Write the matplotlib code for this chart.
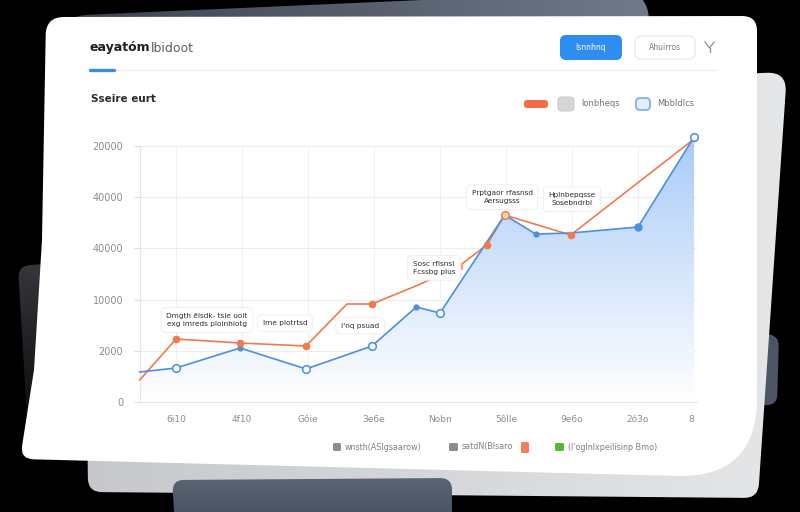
import numpy as np
import matplotlib
matplotlib.use("Agg")
import matplotlib.pyplot as plt
from matplotlib.path import Path
from matplotlib.patches import PathPatch, FancyBboxPatch
from matplotlib.colors import to_rgb

# ---------------- data / text ----------------
title_bold = "eayatóm"
title_light = "lbidoot"
subtitle = "Sseire eurt"
btn_primary = "lsnnhnq"
btn_secondary = "Ahuirros"
legend_top = ["lonbheqs", "Mbbldlcs"]
legend_bottom = ["wnsth(ASlgsaarow)", "satdN(Blsaro", "(l'oglnlxpeilisinp Bmo)"]

y_ticks = [0, 10000, 20000, 30000, 40000, 50000]
y_tick_labels = ["0", "2000", "10000", "40000", "40000", "20000"]
x_ticks = [0, 1, 2, 3, 4, 5, 6, 7, 7.8]
x_tick_labels = ["6i10", "4f10", "Gôie", "3e6e", "Nobn", "5ôlle", "9e6o", "2ó3o", "8"]

blue_x = [-0.55, 0, 0.97, 1.97, 2.97, 3.64, 4.0, 4.98, 5.45, 5.98, 7.0, 7.85]
blue_y = [5860, 6640, 10550, 6450, 10940, 18550, 17380, 36520, 32810, 33000, 34180, 51760]
orange_x = [-0.55, 0, 0.97, 1.97, 2.59, 2.97, 3.67, 4.29, 4.71, 4.98, 5.98, 7.85]
orange_y = [4300, 12300, 11520, 10940, 19140, 19140, 22850, 26560, 30660, 36520, 32620, 51370]

annotation_texts = [
    "Dmgth ēlsdk- tsie uoit\nexg imreds ploinhiotg",
    "Ime plotrtsd",
    "I'nq psuad",
    "Sosc rflsnsl\nFcssbg plus",
    "Prptgaor rfasnsd\nAersugsss",
    "Hplnbepqsse\nSosebndrbl",
]
annotation_pos = [(0.47, 16000), (1.65, 15400), (2.79, 14900), (3.91, 26200), (4.94, 40000), (6.0, 39600)]

BLUE = "#4a8fe3"
ORANGE = "#f07a4c"

# ---------------- helpers ----------------
def rounded_polygon(pts, radii):
    n = len(pts)
    verts, codes = [], []
    for i in range(n):
        p0 = np.array(pts[i - 1], float)
        p1 = np.array(pts[i], float)
        p2 = np.array(pts[(i + 1) % n], float)
        r = radii[i]
        d1 = (p0 - p1) / np.linalg.norm(p0 - p1)
        d2 = (p2 - p1) / np.linalg.norm(p2 - p1)
        a = p1 + d1 * r
        b = p1 + d2 * r
        verts.append(a)
        codes.append(Path.MOVETO if i == 0 else Path.LINETO)
        verts += [p1, b]
        codes += [Path.CURVE3, Path.CURVE3]
    verts.append(verts[0])
    codes.append(Path.CLOSEPOLY)
    return Path(verts, codes)


def gradient_shape(ax, path, c1, c2, extent, zorder, horizontal=False):
    n = 256
    a = np.array(to_rgb(c1))
    b = np.array(to_rgb(c2))
    t = np.linspace(0, 1, n)
    if horizontal:
        img = (a[None, None, :] * (1 - t)[None, :, None] + b[None, None, :] * t[None, :, None])
    else:
        img = (a[None, None, :] * (1 - t)[:, None, None] + b[None, None, :] * t[:, None, None])
    x0, x1, y0, y1 = extent
    im = ax.imshow(img, extent=(x0, x1, y1, y0), origin="upper", aspect="auto",
                   zorder=zorder, interpolation="bilinear")
    patch = PathPatch(path, facecolor="none", edgecolor="none", transform=ax.transData)
    ax.add_patch(patch)
    im.set_clip_path(patch)
    return im


# ---------------- figure ----------------
fig = plt.figure(figsize=(8, 5.12), dpi=100, facecolor="black")
bg = fig.add_axes([0, 0, 1, 1])
bg.set_facecolor("black")
bg.axis("off")

# background cards
top_card = rounded_polygon([(60, 16), (648, -10), (662, 400), (70, 400)], [28, 30, 0, 0])
gradient_shape(bg, top_card, "#3c424e", "#717b8b", (60, 662, -10, 400), 1, horizontal=True)

left_card = rounded_polygon([(18, 266), (70, 262), (70, 470), (30, 470)], [12, 0, 0, 0])
gradient_shape(bg, left_card, "#35373c", "#0c0c0d", (18, 70, 262, 420), 1)

bump = rounded_polygon([(740, 330), (779, 336), (777, 405), (740, 405)], [0, 10, 10, 0])
bg.add_patch(PathPatch(bump, facecolor="#4d5564", edgecolor="none", zorder=1))

grey_page = rounded_polygon([(84, 100), (787, 72), (758, 498), (88, 492)], [0, 20, 14, 14])
gradient_shape(bg, grey_page, "#c6c8cb", "#e4e6e8", (84, 787, 72, 498), 2, horizontal=True)

slate_bottom = rounded_polygon([(172, 480), (452, 478), (452, 540), (176, 540)], [12, 12, 0, 0])
gradient_shape(bg, slate_bottom, "#5a6473", "#3f4756", (172, 452, 478, 540), 3)

white_card = rounded_polygon([(46, 17), (757, 16), (757, 478), (20, 459), (34, 370), (42, 240)],
                             [18, 15, 80, 14, 0, 0])
bg.add_patch(PathPatch(white_card, facecolor="white", edgecolor="none", zorder=4))

# header
bg.text(89, 48, title_bold, fontsize=9, fontweight="bold", color="#1d1f24",
        ha="left", va="center", zorder=6)
bg.text(151, 48, title_light, fontsize=9, color="#5a5e66", ha="left", va="center", zorder=6)
bg.plot([89, 717], [70, 70], color="#eceef1", lw=0.8, zorder=5)
bg.plot([90, 114], [70, 70], color="#3a8ae6", lw=2.4, solid_capstyle="round", zorder=6)

bg.add_patch(FancyBboxPatch((560, 35), 62, 25, boxstyle="round,pad=0,rounding_size=6",
                            facecolor="#2f8cf0", edgecolor="none", zorder=6))
bg.text(591, 47.5, btn_primary, fontsize=5.5, color="white", ha="center", va="center", zorder=7)
bg.add_patch(FancyBboxPatch((635, 36), 60, 23, boxstyle="round,pad=0,rounding_size=6",
                            facecolor="white", edgecolor="#e4e6e9", lw=0.8, zorder=6))
bg.text(665, 47.5, btn_secondary, fontsize=5.5, color="#7a7d83", ha="center", va="center", zorder=7)
bg.plot([705, 709.5, 714], [42, 48, 42], color="#8d9096", lw=0.9, zorder=6)
bg.plot([709.5, 709.5], [48, 52], color="#8d9096", lw=0.9, zorder=6)

bg.text(91, 99, subtitle, fontsize=7.5, fontweight="bold", color="#2a2c31",
        ha="left", va="center", zorder=6)

# top legend
bg.add_patch(FancyBboxPatch((524, 100), 24, 8, boxstyle="round,pad=0,rounding_size=3",
                            facecolor="#f26b4b", edgecolor="none", zorder=6))
bg.add_patch(FancyBboxPatch((558, 97), 16, 14, boxstyle="round,pad=0,rounding_size=3",
                            facecolor="#d4d5d7", edgecolor="#c4c5c8", lw=0.6, zorder=6))
bg.text(581, 104, legend_top[0], fontsize=6, color="#6f737a", ha="left", va="center", zorder=6)
bg.add_patch(FancyBboxPatch((636, 98), 14, 12, boxstyle="round,pad=0,rounding_size=4",
                            facecolor="#e3eefc", edgecolor="#86b6ef", lw=1.4, zorder=6))
bg.text(657, 104, legend_top[1], fontsize=6, color="#6f737a", ha="left", va="center", zorder=6)

# bottom legend
bg.add_patch(FancyBboxPatch((333, 443), 8, 8, boxstyle="round,pad=0,rounding_size=1.5",
                            facecolor="#8c8d90", edgecolor="none", zorder=6))
bg.text(345, 447, legend_bottom[0], fontsize=5.8, color="#7c7f85", ha="left", va="center", zorder=6)
bg.add_patch(FancyBboxPatch((449, 443), 9, 8, boxstyle="round,pad=0,rounding_size=1.5",
                            facecolor="#8c8d90", edgecolor="none", zorder=6))
bg.text(462, 447, legend_bottom[1], fontsize=5.8, color="#7c7f85", ha="left", va="center", zorder=6)
bg.add_patch(FancyBboxPatch((521, 442), 8, 11, boxstyle="round,pad=0,rounding_size=1.5",
                            facecolor="#f4805a", edgecolor="none", zorder=6))
bg.add_patch(FancyBboxPatch((555, 443), 9, 8, boxstyle="round,pad=0,rounding_size=1.5",
                            facecolor="#5db532", edgecolor="none", zorder=6))
bg.text(568, 447, legend_bottom[2], fontsize=5.8, color="#7c7f85", ha="left", va="center", zorder=6)

bg.set_xlim(0, 800)
bg.set_ylim(512, 0)

# ---------------- chart ----------------
y_top = 53000
ax = fig.add_axes([140 / 800, (512 - 402) / 512, 557 / 800, (256 * y_top / 50000) / 512], zorder=10)
ax.set_facecolor("none")
x_min, x_max = -0.5455, 7.894
ax.set_xlim(x_min, x_max)
ax.set_ylim(0, y_top)

for s in ["top", "right"]:
    ax.spines[s].set_visible(False)
ax.spines["left"].set_color("#e6e6e6")
ax.spines["left"].set_bounds(0, 50000)
ax.spines["bottom"].set_color("#e3e3e3")
ax.spines["bottom"].set_linewidth(0.8)
ax.spines["left"].set_linewidth(0.8)

ax.hlines(y_ticks[1:], x_min, x_max, color="#ededed", lw=0.8, zorder=0)
ax.vlines(list(x_ticks[:-1]) + [x_max], 0, 50000, color="#f0f0f0", lw=0.8, zorder=0)

ax.set_yticks(y_ticks)
ax.set_yticklabels(y_tick_labels)
ax.set_xticks(x_ticks)
ax.set_xticklabels(x_tick_labels)
ax.tick_params(axis="y", length=4, width=0.8, color="#dddddd", pad=8, labelsize=7, labelcolor="#8a8d92")
ax.tick_params(axis="x", length=0, pad=9, labelsize=6.5, labelcolor="#8a8d92")

# gradient fill under blue
poly_v = [(blue_x[0], 0)] + list(zip(blue_x, blue_y)) + [(blue_x[-1], 0)]
fill_path = Path(poly_v + [poly_v[0]], [Path.MOVETO] + [Path.LINETO] * (len(poly_v) - 1) + [Path.CLOSEPOLY])
n = 256
t = np.linspace(0, 1, n)[:, None, None]
c_top = np.array(to_rgb("#a9cbf8"))
c_bot = np.array(to_rgb("#ffffff"))
img = c_top * (1 - t) + c_bot * t
im = ax.imshow(img, extent=(x_min, x_max, 0, max(blue_y)), origin="upper", aspect="auto", zorder=1)
clip = PathPatch(fill_path, facecolor="none", edgecolor="none", transform=ax.transData)
ax.add_patch(clip)
im.set_clip_path(clip)
ax.set_xlim(x_min, x_max)
ax.set_ylim(0, y_top)

ax.plot(orange_x, orange_y, color=ORANGE, lw=1.2, zorder=3, clip_on=False)
ax.plot(blue_x, blue_y, color=BLUE, lw=1.2, zorder=4, clip_on=False)

# markers
open_blue = [1, 3, 4, 6, 11]
small_blue = [2, 5, 8]
big_blue = [10]
ax.plot([blue_x[i] for i in open_blue], [blue_y[i] for i in open_blue], "o", ms=5.5,
        mfc="white", mec=BLUE, mew=1.1, zorder=6, clip_on=False)
ax.plot([blue_x[i] for i in small_blue], [blue_y[i] for i in small_blue], "o", ms=3.5,
        mfc=BLUE, mec=BLUE, zorder=6, clip_on=False)
ax.plot([blue_x[i] for i in big_blue], [blue_y[i] for i in big_blue], "o", ms=5,
        mfc=BLUE, mec=BLUE, zorder=6, clip_on=False)

filled_orange = [1, 2, 3, 5, 8, 10]
ax.plot([orange_x[i] for i in filled_orange], [orange_y[i] for i in filled_orange], "o", ms=4.5,
        mfc=ORANGE, mec=ORANGE, zorder=7, clip_on=False)
ax.plot([orange_x[7]], [orange_y[7]], "<", ms=5, mfc="#f7b08a", mec="#f3a074", zorder=7)
ax.plot([orange_x[9]], [orange_y[9]], "o", ms=5.5, mfc="#fbd9c4", mec=ORANGE, mew=1.1, zorder=7)

for txt, (xa, ya) in zip(annotation_texts, annotation_pos):
    ax.text(xa, ya, txt, fontsize=5.3, color="#2c2e33", ha="center", va="center",
            linespacing=1.5, zorder=8,
            bbox=dict(boxstyle="round,pad=0.7,rounding_size=0.6", facecolor="white",
                      edgecolor="#ececec", lw=0.6))

fig.savefig("out.png", dpi=100, facecolor="black")
